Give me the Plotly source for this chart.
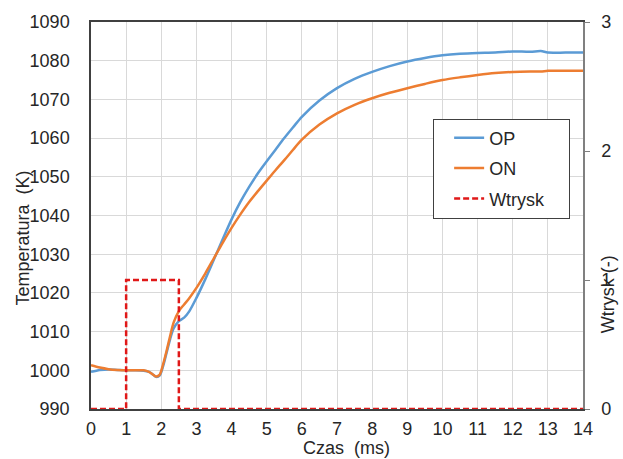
import plotly.graph_objects as go

t = [0, 0.25, 0.5, 0.75, 1, 1.25, 1.5, 1.65, 1.75, 1.85, 1.95, 2.05, 2.15, 2.25, 2.35, 2.5,
     2.65, 2.8, 3, 3.25, 3.5, 3.75, 4, 4.25, 4.5, 4.75, 5, 5.25, 5.5, 5.75, 6, 6.5, 7, 7.5,
     8, 8.5, 9, 9.5, 10, 10.5, 11, 11.5, 12, 12.5, 12.8, 13, 13.5, 14]
op = [999.6, 1000.1, 1000.2, 1000.1, 1000.0, 1000.0, 999.9, 999.6, 999.0, 998.3, 998.6,
      1001.0, 1004.5, 1008.0, 1010.8, 1012.7, 1013.6, 1015.3, 1018.7, 1023.5, 1028.7,
      1033.9, 1039.0, 1043.5, 1047.4, 1050.9, 1054.0, 1057.0, 1060.0, 1062.8, 1065.5,
      1069.7, 1072.9, 1075.3, 1077.1, 1078.6, 1079.8, 1080.7, 1081.4, 1081.8, 1082.0,
      1082.1, 1082.4, 1082.3, 1082.5, 1082.1, 1082.1, 1082.1]
on = [1001.3, 1000.7, 1000.3, 1000.1, 1000.0, 1000.0, 1000.0, 999.6, 999.0, 998.4, 998.8,
      1001.5, 1005.0, 1008.8, 1012.3, 1015.3, 1017.0, 1018.7, 1021.3, 1025.0, 1029.0,
      1033.0, 1036.8, 1040.3, 1043.5, 1046.3, 1049.0, 1051.7, 1054.3, 1057.0, 1059.6,
      1063.5, 1066.4, 1068.6, 1070.3, 1071.7, 1072.9, 1074.0, 1075.0, 1075.7, 1076.3,
      1076.8, 1077.1, 1077.2, 1077.2, 1077.4, 1077.4, 1077.4]
inj_t = [0, 1, 1, 2.5, 2.5, 14]
inj = [0, 0, 1, 1, 0, 0]

FONT = "Liberation Sans, Arial, sans-serif"
TXT = "#262626"
FS = 18

fig = go.Figure()
fig.add_trace(go.Scatter(x=t, y=op, name="OP", legendgroup="a", mode="lines",
                         line=dict(color="#5B9BD5", width=2.5, shape="spline", smoothing=0.8)))
fig.add_trace(go.Scatter(x=t, y=on, name="ON", legendgroup="b", mode="lines",
                         line=dict(color="#ED7D31", width=2.5, shape="spline", smoothing=0.8)))
fig.add_trace(go.Scatter(x=inj_t, y=inj, name="Wtrysk\u00a0\u00a0\u00a0\u00a0", legendgroup="c", mode="lines", yaxis="y2",
                         line=dict(color="#E01818", width=2.5, dash="6px,3px")))

fig.update_layout(
    width=623, height=459,
    margin=dict(l=91, r=33, t=22, b=50),
    paper_bgcolor="white", plot_bgcolor="white",
    font=dict(family=FONT, size=FS, color=TXT),
    showlegend=True,
    legend=dict(x=(438 - 91) / 499, y=(409.5 - 119) / 387, xanchor="left", yanchor="top",
                bordercolor="#404040", borderwidth=1, bgcolor="white", indentation=15,
                font=dict(size=FS, color=TXT), itemwidth=30, tracegroupgap=4),
    xaxis=dict(range=[0, 14], dtick=1, tick0=0, showgrid=True, gridcolor="#D9D9D9", gridwidth=1,
               showline=True, linecolor="#404040", linewidth=1.5, mirror=True,
               ticks="", ticklabelstandoff=3, zeroline=False),
    yaxis=dict(range=[990, 1090], dtick=10, tick0=990, showgrid=True, gridcolor="#D9D9D9", gridwidth=1,
               showline=True, linecolor="#404040", linewidth=1.5,
               ticks="", ticklabelstandoff=16, zeroline=False),
    yaxis2=dict(range=[0, 3], dtick=1, tick0=0, overlaying="y", side="right", showgrid=False,
                showline=True, linecolor="#808080", linewidth=1.5, ticks="outside", ticklen=5,
                tickcolor="#808080", ticklabelstandoff=8, zeroline=False),
    annotations=[
        dict(text="Temperatura  (K)", xref="paper", yref="paper", x=(23 - 91) / 499, y=(409.5 - 238) / 387,
             textangle=-90, showarrow=False, font=dict(size=FS, color=TXT), xanchor="center", yanchor="middle"),
        dict(text="Czas  (ms)", xref="paper", yref="paper", x=(350.5 - 91) / 499, y=-(448 - 409.5) / 387,
             showarrow=False, font=dict(size=FS, color=TXT), xanchor="center", yanchor="middle"),
        dict(text="Wtrysk (-)", xref="paper", yref="paper", x=(615 - 91) / 499, y=(409.5 - 295) / 387,
             textangle=-90, showarrow=False, font=dict(size=FS, color=TXT), xanchor="center", yanchor="middle",
             bgcolor="rgba(0,0,0,0)"),
    ],
)

fig.write_html("out.html")
